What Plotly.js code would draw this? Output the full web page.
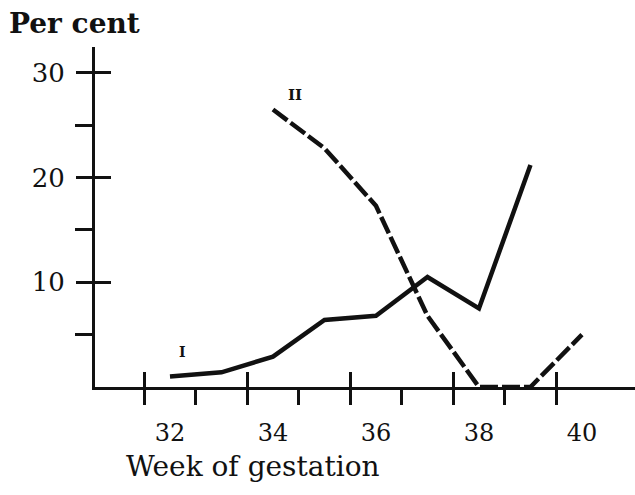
<!DOCTYPE html>
<html>
<head>
<meta charset="utf-8">
<script src="https://cdn.plot.ly/plotly-3.0.1.min.js"></script>
<style>html,body{margin:0;padding:0;background:#fff;}#chart{width:635px;height:495px;}</style>
</head>
<body>
<div id="chart"></div>
<script>
// Week of gestation
const weeksI = [32, 33, 34, 35, 36, 37, 38, 39];
const percentI = [1.0, 1.4, 2.9, 6.4, 6.8, 10.5, 7.5, 21.2];
const weeksII = [34, 35, 36, 37, 38, 39, 40];
const percentII = [26.5, 22.8, 17.3, 6.8, 0, 0, 5.0];
const xTickVals = [32, 34, 36, 38, 40];
const xTickText = ['32', '34', '36', '38', '40'];
const xMajorTicks = [31.5, 33.5, 35.5, 37.5, 39.5];
const xMinorTicks = [32.5, 34.5, 36.5, 38.5];
const yTickVals = [10, 20, 30];
const yMinorTicks = [5, 15, 25];

const FONT = 'DejaVu Serif';
const INK = '#111';

const traces = [
  {x: weeksI, y: percentI, type: 'scatter', mode: 'lines', xaxis: 'x', yaxis: 'y',
   line: {color: INK, width: 4.5}, hoverinfo: 'skip', cliponaxis: true},
  {x: weeksII, y: percentII, type: 'scatter', mode: 'lines', xaxis: 'x', yaxis: 'y',
   line: {color: INK, width: 4.5, dash: '18px,4px'}, hoverinfo: 'skip', cliponaxis: true},
  {x: [], y: [], type: 'scatter', mode: 'lines', xaxis: 'x2', yaxis: 'y2', hoverinfo: 'skip'},
  {x: [], y: [], type: 'scatter', mode: 'lines', xaxis: 'x3', yaxis: 'y3', hoverinfo: 'skip'}
];

const xr = [30.544, 41.03];
const yr = [0, 32.47];

const baseAx = {showgrid: false, zeroline: false, fixedrange: true};

const layout = {
  width: 635, height: 495,
  margin: {l: 95, r: 0, t: 47, b: 108},
  paper_bgcolor: '#fff', plot_bgcolor: 'rgba(0,0,0,0)',
  showlegend: false,
  xaxis: Object.assign({}, baseAx, {
    range: xr, tickmode: 'array', tickvals: xTickVals, ticktext: xTickText,
    ticks: 'outside', ticklen: 22, tickcolor: 'rgba(0,0,0,0)',
    showline: true, linewidth: 3, linecolor: INK,
    tickfont: {family: FONT, size: 24, color: INK}
  }),
  xaxis2: Object.assign({}, baseAx, {
    range: xr, overlaying: 'x', anchor: 'y2', side: 'bottom',
    tickmode: 'array', tickvals: xMajorTicks, ticks: 'outside', ticklen: 17,
    tickwidth: 3, tickcolor: INK, showticklabels: false, showline: false,
    minor: {tickvals: xMinorTicks, ticks: 'outside', ticklen: 17, tickwidth: 3, tickcolor: INK}
  }),
  xaxis3: Object.assign({}, baseAx, {
    range: xr, overlaying: 'x', anchor: 'y3', side: 'bottom',
    tickmode: 'array', tickvals: xMajorTicks, ticks: 'inside', ticklen: 15,
    tickwidth: 3, tickcolor: INK, showticklabels: false, showline: false
  }),
  yaxis: Object.assign({}, baseAx, {
    range: yr, tickmode: 'array', tickvals: yTickVals,
    ticks: 'outside', ticklen: 16, tickwidth: 3, tickcolor: INK,
    showline: true, linewidth: 3, linecolor: INK,
    ticklabelstandoff: 6,
    tickfont: {family: FONT, size: 26, color: INK},
    minor: {tickvals: yMinorTicks, ticks: 'outside', ticklen: 17, tickwidth: 3, tickcolor: INK}
  }),
  yaxis2: Object.assign({}, baseAx, {
    range: yr, overlaying: 'y', anchor: 'x2', side: 'left',
    tickmode: 'array', tickvals: yTickVals, ticks: 'inside', ticklen: 16,
    tickwidth: 3, tickcolor: INK, showticklabels: false, showline: false
  }),
  yaxis3: Object.assign({}, baseAx, {
    range: yr, overlaying: 'y', anchor: 'x3', side: 'left',
    showticklabels: false, showline: false, ticks: ''
  }),
  annotations: [
    {text: 'Per cent', xref: 'paper', yref: 'paper', x: -0.163, y: 1.068,
     xanchor: 'left', yanchor: 'middle', showarrow: false,
     font: {family: FONT, size: 28, color: INK, weight: 'bold'}},
    {text: 'Week of gestation', xref: 'paper', yref: 'paper', x: 0.054, y: -0.235,
     xanchor: 'left', yanchor: 'middle', showarrow: false,
     font: {family: FONT, size: 28, color: INK}},
    {text: 'I', xref: 'x', yref: 'y', x: 32.25, y: 3.3, showarrow: false,
     font: {family: FONT, size: 14, color: INK, weight: 'bold'}},
    {text: 'II', xref: 'x', yref: 'y', x: 34.43, y: 27.9, showarrow: false,
     font: {family: FONT, size: 15, color: INK, weight: 'bold'}}
  ]
};

Plotly.newPlot('chart', traces, layout, {staticPlot: true, displayModeBar: false});
</script>
</body>
</html>
